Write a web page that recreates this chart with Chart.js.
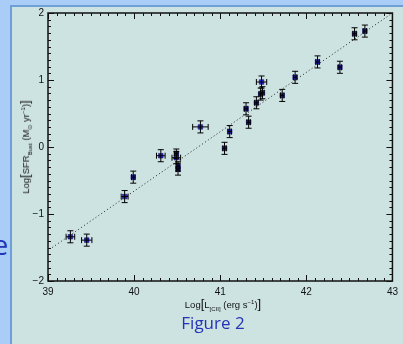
<!DOCTYPE html>
<html>
<head>
<meta charset="utf-8">
<script src="https://cdn.jsdelivr.net/npm/chart.js@4/dist/chart.umd.min.js"></script>
<style>
  body { margin: 0; width: 403px; height: 344px; overflow: hidden; background: #a9cdf6; position: relative; font-family: "Liberation Sans", Arial, sans-serif; }
  #panel { position: absolute; left: 10px; top: 5px; right: 0; bottom: 0; background: #cde3e2; border-top: 2px solid #6f9fd9; border-left: 2px solid #6f9fd9; }
  #chartBox { position: absolute; left: 0; top: 0; width: 403px; height: 344px; }
  .ytitle { position: absolute; left: 25px; top: 147px; transform: translate(-50%, -50%) rotate(-90deg); font-size: 9.5px; color: #111; white-space: nowrap; }
  .xtitle { position: absolute; left: 223px; top: 304px; transform: translate(-50%, -50%); font-size: 9.5px; color: #111; white-space: nowrap; }
  .fig { position: absolute; left: 213px; top: 322px; transform: translate(-50%, -50%); font-family: "Open Sans", "Noto Sans", sans-serif; font-size: 17px; color: #2433b8; white-space: nowrap; }
  .edge { position: absolute; left: -7px; top: 226px; font-family: "Open Sans", "Noto Sans", sans-serif; font-size: 27px; color: #2433b8; }
  sub, sup { font-size: 6px; }
  .big { font-size: 13px; }
</style>
</head>
<body>
<div id="panel"></div>
<div class="edge">e</div>
<div id="chartBox"><canvas id="graphCanvas" width="403" height="344"></canvas></div>
<div class="ytitle">Log<span class="big">[</span>SFR<sub>Bust</sub> (M<sub>⊙</sub> yr<sup>−1</sup>)<span class="big">]</span></div>
<div class="xtitle">Log<span class="big">[</span>L<sub>[CII]</sub> (erg s<sup>−1</sup>)<span class="big">]</span></div>
<div class="fig">Figure 2</div>
<script>
// 데이터: 관측점
var logL = [39.26, 39.45, 39.89, 39.99, 40.31, 40.49, 40.49, 40.51, 40.51, 40.77, 41.05, 41.11,
            41.30, 41.33, 41.42, 41.47, 41.48, 41.49, 41.72, 41.87, 42.13, 42.39, 42.56, 42.68];
var logSFR = [-1.34, -1.39, -0.74, -0.45, -0.13, -0.10, -0.16, -0.29, -0.33, 0.30, -0.02, 0.23,
              0.57, 0.37, 0.66, 0.79, 0.97, 0.81, 0.77, 1.04, 1.27, 1.19, 1.69, 1.73];
var errX = [0.05, 0.06, 0.04, 0.02, 0.05, 0.02, 0.05, 0.02, 0.02, 0.09, 0.02, 0.02,
            0.02, 0.02, 0.02, 0.02, 0.06, 0.02, 0.02, 0.02, 0.02, 0.02, 0.02, 0.02];
var errY = [0.09, 0.09, 0.09, 0.09, 0.09, 0.07, 0.09, 0.07, 0.09, 0.09, 0.09, 0.09,
            0.09, 0.09, 0.09, 0.09, 0.09, 0.09, 0.09, 0.09, 0.09, 0.09, 0.09, 0.09];

// 점선 회귀선 양 끝
var fitX = [39.05, 43.0];
var fitY = [-1.50, 2.00];

var xTicks = [39, 40, 41, 42, 43];
var yTicks = [-2, -1, 0, 1, 2];

var points = [];
for (var i = 0; i < logL.length; i++) {
    points.push({x: logL[i], y: logSFR[i]});
}
var fitLine = [];
for (var j = 0; j < fitX.length; j++) {
    fitLine.push({x: fitX[j], y: fitY[j]});
}

// 에러바 + 안쪽 눈금 그리기
var errorBarPlugin = {
    id: 'errorBars',
    afterDatasetsDraw: function(chart) {
        var ctx = chart.ctx;
        var xs = chart.scales.x, ys = chart.scales.y;
        ctx.save();
        ctx.strokeStyle = '#000';
        ctx.lineWidth = 1;
        for (var i = 0; i < logL.length; i++) {
            var px = xs.getPixelForValue(logL[i]);
            var py = ys.getPixelForValue(logSFR[i]);
            var y1 = ys.getPixelForValue(logSFR[i] + errY[i]);
            var y2 = ys.getPixelForValue(logSFR[i] - errY[i]);
            var x1 = xs.getPixelForValue(logL[i] - errX[i]);
            var x2 = xs.getPixelForValue(logL[i] + errX[i]);
            ctx.beginPath();
            ctx.moveTo(px, y1); ctx.lineTo(px, y2);
            ctx.moveTo(px - 3, y1); ctx.lineTo(px + 3, y1);
            ctx.moveTo(px - 3, y2); ctx.lineTo(px + 3, y2);
            ctx.moveTo(x1, py); ctx.lineTo(x2, py);
            ctx.moveTo(x1, py - 3); ctx.lineTo(x1, py + 3);
            ctx.moveTo(x2, py - 3); ctx.lineTo(x2, py + 3);
            ctx.stroke();
        }
        ctx.restore();
    },
    afterDraw: function(chart) {
        var ctx = chart.ctx;
        var a = chart.chartArea;
        var xs = chart.scales.x, ys = chart.scales.y;
        ctx.save();
        ctx.strokeStyle = '#111';
        ctx.lineWidth = 1.5;
        ctx.strokeRect(a.left, a.top, a.right - a.left, a.bottom - a.top);
        ctx.lineWidth = 1;
        ctx.beginPath();
        for (var k = 0; k <= 40; k++) {
            var v = 39 + k * 0.1;
            var p = Math.round(xs.getPixelForValue(v)) + 0.5;
            var len = (k % 10 === 0) ? 6 : 3;
            ctx.moveTo(p, a.bottom); ctx.lineTo(p, a.bottom - len);
            ctx.moveTo(p, a.top); ctx.lineTo(p, a.top + len);
        }
        for (var m = 0; m <= 40; m++) {
            var w = -2 + m * 0.1;
            var q = Math.round(ys.getPixelForValue(w)) + 0.5;
            var len2 = (m % 10 === 0) ? 6 : 3;
            ctx.moveTo(a.left, q); ctx.lineTo(a.left + len2, q);
            ctx.moveTo(a.right, q); ctx.lineTo(a.right - len2, q);
        }
        ctx.stroke();
        ctx.restore();
    }
};

var canvas = document.getElementById("graphCanvas");
var ctx = canvas.getContext("2d");

window.myChart = new Chart(ctx, {
    type: 'scatter',
    data: {
        datasets: [{
            type: 'line',
            data: fitLine,
            borderColor: '#222',
            borderWidth: 1,
            borderDash: [1, 2.5],
            pointRadius: 0,
            fill: false
        }, {
            data: points,
            pointStyle: 'rect',
            pointRadius: 3.2,
            backgroundColor: '#2a22d8',
            borderColor: '#10106a',
            borderWidth: 0.6
        }]
    },
    options: {
        responsive: false,
        animation: false,
        layout: { padding: { top: 13, right: 5, left: 0, bottom: 0 } },
        plugins: { legend: { display: false }, tooltip: { enabled: false } },
        scales: {
            x: {
                type: 'linear',
                min: 39, max: 43,
                afterFit: function(s) { s.height = 63; },
                afterBuildTicks: function(s) { s.ticks = xTicks.map(function(v) { return {value: v}; }); },
                grid: { display: false, drawTicks: false },
                border: { display: false },
                ticks: { padding: 5, color: '#111', font: { family: 'Liberation Sans', size: 10 }, maxRotation: 0 }
            },
            y: {
                type: 'linear',
                min: -2, max: 2,
                afterFit: function(s) { s.width = 48; },
                afterBuildTicks: function(s) { s.ticks = yTicks.map(function(v) { return {value: v}; }); },
                grid: { display: false, drawTicks: false },
                border: { display: false },
                ticks: {
                    padding: 4, color: '#111', font: { family: 'Liberation Sans', size: 10 },
                    callback: function(v) { return v < 0 ? '\u2212' + Math.abs(v) : String(v); }
                }
            }
        }
    },
    plugins: [errorBarPlugin]
});
</script>
</body>
</html>
